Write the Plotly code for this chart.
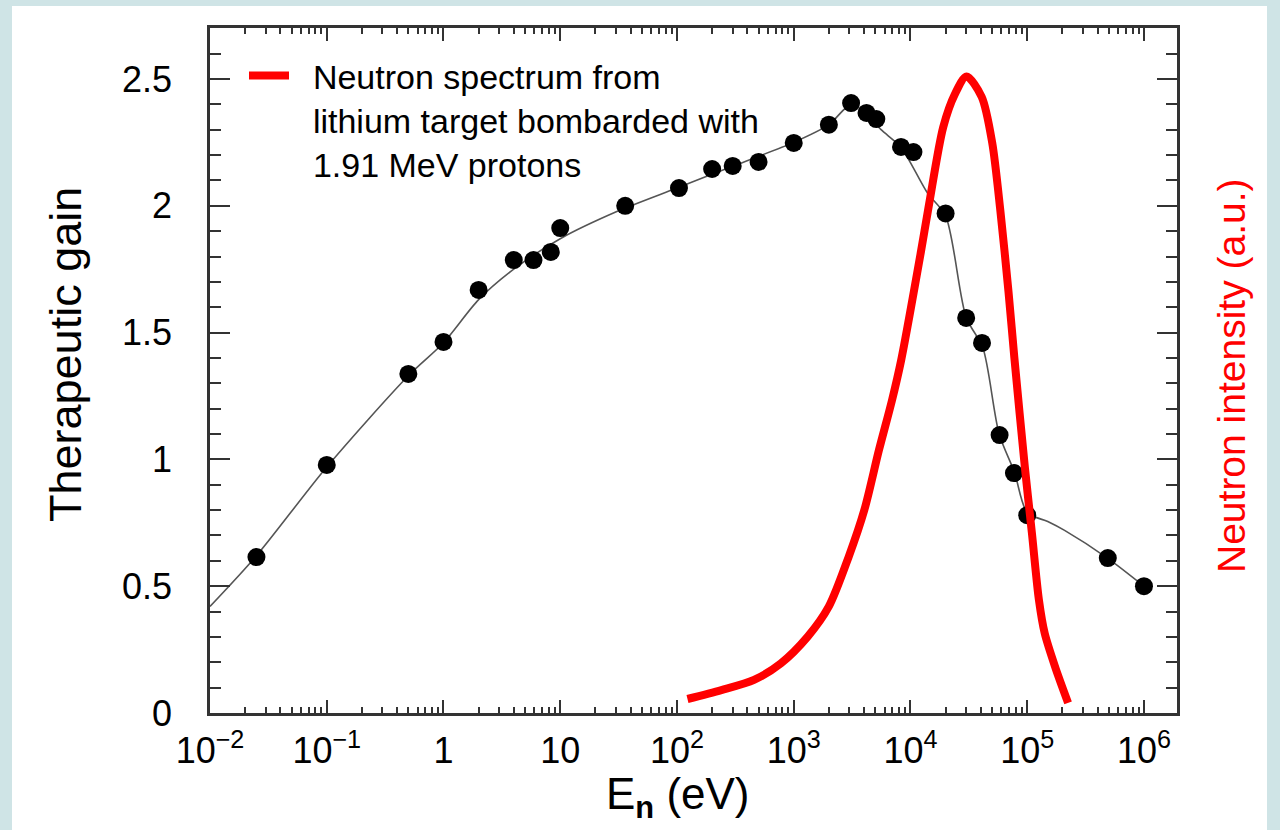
import plotly.graph_objects as go

# Measured therapeutic gain (points)
energy_ev = [0.025, 0.1, 0.5, 1.0, 2.0, 4.0, 5.9, 8.3, 10, 36, 104, 200, 300, 500,
             1000, 2000, 3100, 4200, 5100, 8300, 10600, 20000, 30000, 41000,
             58000, 77000, 100000, 490000, 1000000]
gain = [0.615, 0.978, 1.337, 1.463, 1.668, 1.786, 1.786, 1.818, 1.912, 2.0, 2.07,
        2.145, 2.157, 2.173, 2.248, 2.32, 2.405, 2.366, 2.342, 2.232, 2.212, 1.97,
        1.558, 1.459, 1.096, 0.946, 0.78, 0.611, 0.50]

# Smooth fit curve through the gain data
fit_energy_ev = [0.01, 0.025, 0.1, 0.5, 1, 2, 4, 10, 31.6, 100, 316, 1000, 2000,
                 3100, 4000, 5600, 8300, 14000, 20000, 30000, 41700, 57500, 77600,
                 100000, 150000, 209000, 490000, 1000000]
fit_gain = [0.42, 0.62, 0.97, 1.33, 1.46, 1.63, 1.75, 1.87, 1.98, 2.07, 2.16, 2.25,
            2.32, 2.40, 2.37, 2.30, 2.23, 2.05, 1.96, 1.56, 1.44, 1.10, 0.95, 0.79,
            0.755, 0.72, 0.61, 0.50]

# Neutron spectrum (arbitrary units, peak = 1)
spec_energy_ev = [123, 240, 457, 776, 1318, 1995, 2951, 4027, 5370, 6918, 8318,
                  12300, 14454, 19055, 23988, 30200, 40738, 50119, 58884, 69183,
                  77625, 95499, 109648, 125893, 141254, 173780, 223872]
spec_intensity = [0.022, 0.036, 0.052, 0.078, 0.12, 0.167, 0.245, 0.319, 0.413,
                  0.49, 0.554, 0.725, 0.80, 0.92, 0.972, 1.0, 0.968, 0.896, 0.789,
                  0.661, 0.558, 0.386, 0.283, 0.178, 0.125, 0.072, 0.016]

legend_lines = ["Neutron spectrum from", "lithium target bombarded with",
                "1.91 MeV protons"]

x_tickvals = [1e-2, 1e-1, 1, 10, 1e2, 1e3, 1e4, 1e5, 1e6]
x_ticktext = ["10<sup>\u22122</sup>", "10<sup>\u22121</sup>", "1", "10",
              "10<sup>2</sup>", "10<sup>3</sup>", "10<sup>4</sup>",
              "10<sup>5</sup>", "10<sup>6</sup>"]
y_tickvals = [0, 0.5, 1, 1.5, 2, 2.5]
y_ticktext = ["0", "0.5", "1", "1.5", "2", "2.5"]

minor_x = [m * 10.0 ** k for k in range(-2, 6) for m in range(2, 10)]

fig = go.Figure()
fig.add_trace(go.Scatter(
    x=fit_energy_ev, y=fit_gain, mode="lines",
    line=dict(color="#555555", width=1.6, shape="spline", smoothing=0.8),
    showlegend=False, hoverinfo="skip"))
fig.add_trace(go.Scatter(
    x=energy_ev, y=gain, mode="markers",
    marker=dict(color="black", size=18, symbol="circle"),
    showlegend=False))
fig.add_trace(go.Scatter(
    x=spec_energy_ev, y=spec_intensity, mode="lines", yaxis="y2",
    line=dict(color="#ff0000", width=8, shape="spline", smoothing=0.8),
    name="<br>".join("\u00a0\u00a0" + s for s in legend_lines),
    showlegend=True))

L, R, T, B = 210, 1177, 28, 713
pw, ph = R - L, B - T

def px(x):
    return (x - L) / pw

def py(y):
    return (B - y) / ph

axis_font = dict(family="Liberation Sans, Arial, sans-serif", size=36, color="black")

fig.update_layout(
    width=1280, height=830,
    margin=dict(l=L, r=1280 - R, t=T, b=830 - B),
    paper_bgcolor="#cfe4e6",
    plot_bgcolor="white",
    xaxis=dict(
        type="log", range=[-2, 6.283],
        tickmode="array", tickvals=x_tickvals, ticktext=x_ticktext,
        ticks="inside", ticklen=13, tickwidth=2, tickcolor="#333333",
        showline=True, linewidth=2.5, linecolor="#333333", mirror="ticks",
        showgrid=False, zeroline=False,
        tickfont=axis_font, ticklabelstandoff=4,
        minor=dict(tickvals=minor_x, ticks="inside", ticklen=6, tickwidth=1.5,
                   tickcolor="#333333", showgrid=False),
    ),
    yaxis=dict(
        range=[0, 2.701],
        tickmode="array", tickvals=y_tickvals, ticktext=y_ticktext,
        ticks="inside", ticklen=20, tickwidth=2, tickcolor="#333333",
        showline=True, linewidth=2.5, linecolor="#333333", mirror="ticks",
        showgrid=False, zeroline=False,
        tickfont=axis_font, ticklabelstandoff=28,
        minor=dict(dtick=0.1, ticks="inside", ticklen=11, tickwidth=1.5,
                   tickcolor="#333333", showgrid=False),
    ),
    yaxis2=dict(
        overlaying="y", side="right", range=[0, 1.0761],
        showticklabels=False, ticks="", showline=False, showgrid=False,
        zeroline=False,
    ),
    legend=dict(
        x=px(244), y=py(47), xanchor="left", yanchor="top",
        bgcolor="rgba(0,0,0,0)", valign="top", tracegroupgap=0,
        itemwidth=40,
        font=dict(family="Liberation Sans, Arial, sans-serif", size=34, color="black"),
    ),
    shapes=[dict(type="rect", xref="paper", yref="paper",
                 x0=px(12), x1=px(1267), y0=py(830), y1=py(6),
                 fillcolor="white", line=dict(width=0), layer="below")],
    annotations=[
        dict(text="Therapeutic gain", xref="paper", yref="paper",
             x=px(66), y=py(355), textangle=-90, showarrow=False,
             xanchor="center", yanchor="middle",
             font=dict(family="Liberation Sans, Arial, sans-serif", size=45, color="black")),
        dict(text="E<sub><b>n</b></sub> (eV)", xref="paper", yref="paper",
             x=px(678), y=py(797), showarrow=False,
             xanchor="center", yanchor="middle",
             font=dict(family="Liberation Sans, Arial, sans-serif", size=44, color="black")),
        dict(text="Neutron intensity (a.u.)", xref="paper", yref="paper",
             x=px(1232), y=py(376), textangle=-90, showarrow=False,
             xanchor="center", yanchor="middle",
             font=dict(family="Liberation Sans, Arial, sans-serif", size=39, color="#ff0000")),
    ],
)

fig.write_html("out.html",
               config={"displayModeBar": False},
               post_script="document.body.style.margin='0';document.body.style.overflow='hidden';")
